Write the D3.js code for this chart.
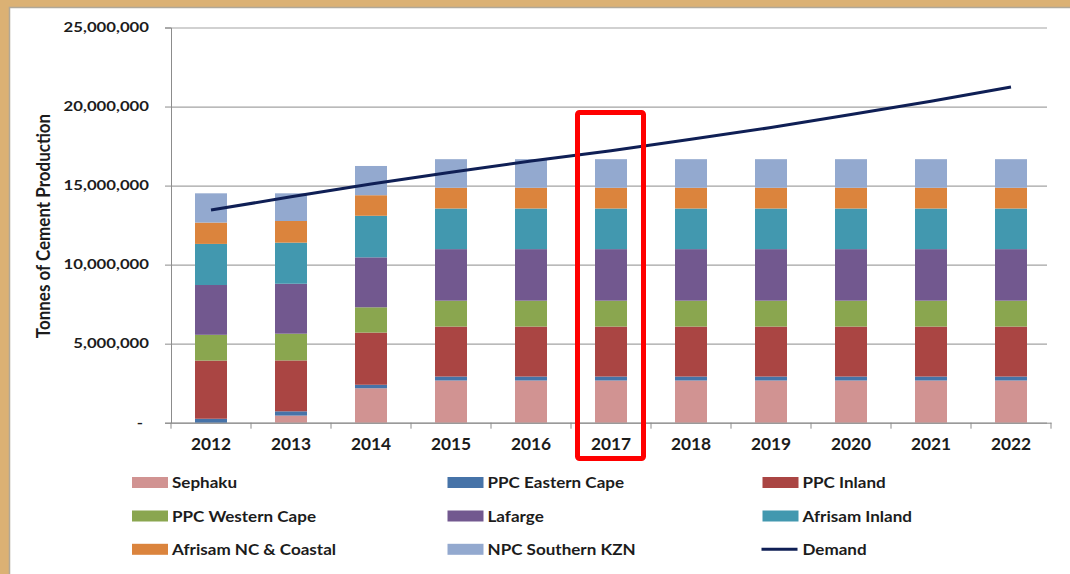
<!DOCTYPE html>
<html>
<head>
<meta charset="utf-8">
<script src="https://cdn.jsdelivr.net/npm/d3@7"></script>
<style>
  body { margin: 0; background: #dbb174; }
  svg { display: block; }
  text { font-family: Lato, "Open Sans", sans-serif; fill: #1c1c1c; font-weight: 700; }
</style>
</head>
<body>
<svg id="chart"></svg>
<script>
// categories
const years = ['2012', '2013', '2014', '2015', '2016', '2017', '2018', '2019', '2020', '2021', '2022'];

// series (tonnes), stacked bottom -> top
const sephaku        = [0,       450000,  2180000, 2670000, 2670000, 2670000, 2670000, 2670000, 2670000, 2670000, 2670000];
const ppcEasternCape = [250000,  270000,  220000,  250000,  250000,  250000,  250000,  250000,  250000,  250000,  250000];
const ppcInland      = [3680000, 3220000, 3300000, 3160000, 3160000, 3160000, 3160000, 3160000, 3160000, 3160000, 3160000];
const ppcWesternCape = [1630000, 1690000, 1600000, 1640000, 1640000, 1640000, 1640000, 1640000, 1640000, 1640000, 1640000];
const lafarge        = [3150000, 3160000, 3160000, 3260000, 3260000, 3260000, 3260000, 3260000, 3260000, 3260000, 3260000];
const afrisamInland  = [2600000, 2600000, 2630000, 2570000, 2570000, 2570000, 2570000, 2570000, 2570000, 2570000, 2570000];
const afrisamNC      = [1350000, 1370000, 1300000, 1310000, 1310000, 1310000, 1310000, 1310000, 1310000, 1310000, 1310000];
const npcSouthernKZN = [1850000, 1750000, 1850000, 1810000, 1810000, 1810000, 1810000, 1810000, 1810000, 1810000, 1810000];

// demand line
const demand = [13450000, 14290000, 15100000, 15850000, 16550000, 17200000, 17930000, 18670000, 19490000, 20330000, 21230000];

const seriesNames = ['Sephaku', 'PPC Eastern Cape', 'PPC Inland', 'PPC Western Cape', 'Lafarge',
                     'Afrisam Inland', 'Afrisam NC & Coastal', 'NPC Southern KZN'];
const seriesValues = [sephaku, ppcEasternCape, ppcInland, ppcWesternCape, lafarge,
                      afrisamInland, afrisamNC, npcSouthernKZN];
const seriesColors = ['#d19392', '#4673a8', '#aa4543', '#8aa64f', '#72588f', '#4298af', '#db843d', '#93a9cf'];
const demandColor = '#0f1f55';

const yTicks = [0, 5000000, 10000000, 15000000, 20000000, 25000000];
const highlightYear = '2017';

// stretch text horizontally around its anchor point
function stretchText(sel, sx) {
  sel.each(function () {
    const t = d3.select(this);
    const x = +t.attr('x') || 0;
    const y = +t.attr('y') || 0;
    t.attr('x', 0).attr('y', 0).attr('transform', `translate(${x},${y}) scale(${sx},1)`);
  });
}

const W = 1070, H = 574;
const plot = {left: 171, right: 1051, top: 27.5, bottom: 422.7};

const svg = d3.select('#chart').attr('width', W).attr('height', H);

// white panel on the tan background
svg.append('rect').attr('x', 9).attr('y', 7).attr('width', W - 9).attr('height', H - 7).attr('fill', '#fff');
svg.append('path').attr('d', `M9.5,${H} V7.5 H${W}`).attr('fill', 'none').attr('stroke', '#b0a898').attr('stroke-width', 1.5);

// scales
const xScale = d3.scaleBand()
    .domain(years)
    .range([plot.left, plot.right])
    .paddingInner(0.6)
    .paddingOuter(0.3);

const yScale = d3.scaleLinear()
    .domain([0, 25000000])
    .range([plot.bottom, plot.top]);

// gridlines
svg.append('g')
    .attr('transform', `translate(${plot.left},0)`)
    .call(d3.axisLeft(yScale).tickValues(yTicks).tickSize(-(plot.right - plot.left - 4)).tickFormat(''))
    .call(g => g.select('.domain').remove())
    .call(g => g.selectAll('line').attr('stroke', '#a3a3a3').attr('stroke-width', 1.2));

// stacked bars
const table = years.map((y, i) => {
  const row = {year: y};
  seriesNames.forEach((n, j) => { row[n] = seriesValues[j][i]; });
  return row;
});
const stacked = d3.stack().keys(seriesNames)(table);

svg.append('g').selectAll('g')
    .data(stacked)
  .join('g')
    .attr('fill', (d, i) => seriesColors[i])
  .selectAll('rect')
    .data(d => d)
  .join('rect')
    .attr('x', d => xScale(d.data.year))
    .attr('y', d => yScale(d[1]))
    .attr('width', xScale.bandwidth())
    .attr('height', d => yScale(d[0]) - yScale(d[1]));

// y axis
const yAxisG = svg.append('g')
    .attr('transform', `translate(${plot.left},0)`)
    .call(d3.axisLeft(yScale).tickValues(yTicks).tickSize(6).tickPadding(16)
      .tickFormat(d => d === 0 ? '-' : d3.format(',')(d)));
yAxisG.select('.domain').attr('stroke', '#8c8c8c');
yAxisG.selectAll('line').attr('stroke', '#8c8c8c');
yAxisG.selectAll('text').attr('font-size', 13.5).attr('fill', '#1c1c1c');
yAxisG.selectAll('.tick').filter(d => d === 0).select('text').attr('x', -28);
stretchText(yAxisG.selectAll('text'), 1.24);

// x axis: labels at band centres, ticks on category boundaries
const xAxisG = svg.append('g')
    .attr('transform', `translate(0,${plot.bottom})`)
    .call(d3.axisBottom(xScale).tickSize(0).tickPadding(15));
xAxisG.select('.domain').attr('stroke', '#8c8c8c');
xAxisG.selectAll('text').attr('font-size', 17).attr('fill', '#1c1c1c');
stretchText(xAxisG.selectAll('text'), 1.02);

const boundaries = years.map(y => xScale(y) - xScale.step() * xScale.paddingInner() / 2)
    .concat([plot.right]);
xAxisG.selectAll('.bound')
    .data(boundaries)
  .join('line')
    .attr('class', 'bound')
    .attr('x1', d => d).attr('x2', d => d)
    .attr('y1', 0).attr('y2', 6)
    .attr('stroke', '#8c8c8c');

// demand line
const line = d3.line()
    .x((d, i) => xScale(years[i]) + xScale.bandwidth() / 2)
    .y(d => yScale(d));
svg.append('path')
    .datum(demand)
    .attr('fill', 'none')
    .attr('stroke', demandColor)
    .attr('stroke-width', 3)
    .attr('d', line);

// y axis title
svg.append('text')
    .attr('transform', `translate(50,226) rotate(-90) scale(1,1.12)`)
    .attr('text-anchor', 'middle')
    .attr('font-size', 17)
    .text('Tonnes of Cement Production');

// highlight box around 2017
const hx = xScale(highlightYear) - xScale.step() * xScale.paddingInner() / 2;
svg.append('rect')
    .attr('x', hx + 6.5)
    .attr('y', 112.5)
    .attr('width', xScale.step() - 14)
    .attr('height', 346)
    .attr('rx', 2)
    .attr('fill', 'none')
    .attr('stroke', '#ff0000')
    .attr('stroke-width', 5);

// legend, 3 columns x 3 rows
const legendItems = seriesNames.map((n, i) => ({name: n, color: seriesColors[i], type: 'bar'}))
    .concat([{name: 'Demand', color: demandColor, type: 'line'}]);
const legendCols = [132, 447.5, 762.5];
const legendRows = [482.5, 516, 549.3];

const legend = svg.append('g').selectAll('g')
    .data(legendItems)
  .join('g')
    .attr('transform', (d, i) => `translate(${legendCols[i % 3]},${legendRows[Math.floor(i / 3)]})`);

legend.filter(d => d.type === 'bar').append('rect')
    .attr('x', 0).attr('y', -5.5)
    .attr('width', 36).attr('height', 11)
    .attr('fill', d => d.color);

legend.filter(d => d.type === 'line').append('line')
    .attr('x1', -1).attr('x2', 35)
    .attr('y1', 0).attr('y2', 0)
    .attr('stroke', d => d.color)
    .attr('stroke-width', 3);

const legendText = legend.append('text')
    .attr('x', 40)
    .attr('y', 0)
    .attr('dy', '0.36em')
    .attr('font-size', 15.5)
    .text(d => d.name);
stretchText(legendText, 1.1);
</script>
</body>
</html>
